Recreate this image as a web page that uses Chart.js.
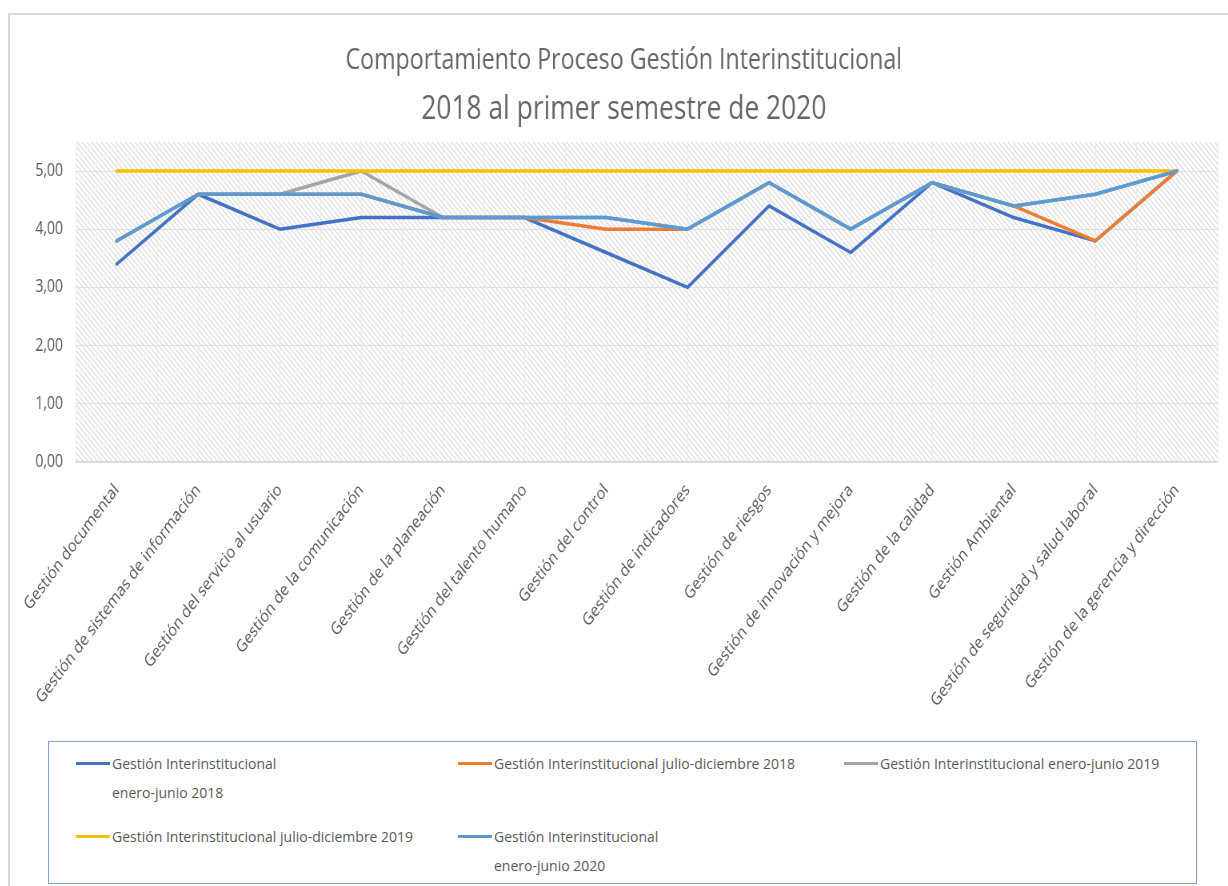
<!DOCTYPE html>
<html>
<head>
<meta charset="utf-8">
<script src="https://cdn.jsdelivr.net/npm/chart.js@4.4.1/dist/chart.umd.min.js"></script>
<style>
  body { margin: 0; background: #fff; font-family: 'Open Sans', sans-serif; }
  #frame { position: absolute; left: 8px; top: 13px; width: 1300px; height: 1000px;
           border-top: 2px solid #d9d9d9; border-left: 2px solid #d9d9d9; }
  #chart { position: absolute; left: 10px; top: 16px; }
  #legend { position: absolute; left: 48px; top: 741px; width: 1147px; height: 141px;
            border: 1px solid #7f9fd8; }
  .item { position: absolute; color: #595959; font-size: 14px; line-height: 29px; white-space: nowrap; }
  .item .swatch { position: absolute; left: 0; top: 13px; width: 34px; height: 3px; }
  .item .txt { margin-left: 36px; }
</style>
</head>
<body>
<div id="frame"></div>
<canvas id="chart" width="1523" height="720" style="width:1218px;height:720px"></canvas>
<div id="legend"></div>
<script>
const categories = [
  'Gestión documental',
  'Gestión de sistemas de información',
  'Gestión del servicio al usuario',
  'Gestión de la comunicación',
  'Gestión de la planeación',
  'Gestión del talento humano',
  'Gestión del control',
  'Gestión de indicadores',
  'Gestión de riesgos',
  'Gestión de innovación y mejora',
  'Gestión de la calidad',
  'Gestión Ambiental',
  'Gestión de seguridad y salud laboral',
  'Gestión de la gerencia y dirección'
];

const eneJun2018 = [3.4, 4.6, 4.0, 4.2, 4.2, 4.2, 3.6, 3.0, 4.4, 3.6, 4.8, 4.2, 3.8, 5.0];
const julDic2018 = [3.8, 4.6, 4.6, 4.6, 4.2, 4.2, 4.0, 4.0, 4.8, 4.0, 4.8, 4.4, 3.8, 5.0];
const eneJun2019 = [3.8, 4.6, 4.6, 5.0, 4.2, 4.2, 4.2, 4.0, 4.8, 4.0, 4.8, 4.4, 4.6, 5.0];
const julDic2019 = [5.0, 5.0, 5.0, 5.0, 5.0, 5.0, 5.0, 5.0, 5.0, 5.0, 5.0, 5.0, 5.0, 5.0];
const eneJun2020 = [3.8, 4.6, 4.6, 4.6, 4.2, 4.2, 4.2, 4.0, 4.8, 4.0, 4.8, 4.4, 4.6, 5.0];

// legend text as shown (some entries wrap onto two lines)
const seriesNames = [
  ['Gestión Interinstitucional', 'enero-junio 2018'],
  ['Gestión Interinstitucional julio-diciembre 2018'],
  ['Gestión Interinstitucional enero-junio 2019'],
  ['Gestión Interinstitucional julio-diciembre 2019'],
  ['Gestión Interinstitucional', 'enero-junio 2020']
];

const yTickValues = [0, 1, 2, 3, 4, 5];

const FONT = "'Open Sans', sans-serif";

function hatchPattern(ctx) {
  const c = document.createElement('canvas');
  c.width = 6; c.height = 6;
  const g = c.getContext('2d');
  g.fillStyle = '#ffffff';
  g.fillRect(0, 0, 6, 6);
  g.strokeStyle = '#dedede';
  g.lineWidth = 1.3;
  g.beginPath();
  g.moveTo(-1, -1); g.lineTo(7, 7);
  g.moveTo(-1, 5); g.lineTo(1, 7);
  g.moveTo(5, -1); g.lineTo(7, 1);
  g.stroke();
  return ctx.createPattern(c, 'repeat');
}

const hatchBackground = {
  id: 'hatchBackground',
  beforeDraw(chart) {
    const { ctx, chartArea } = chart;
    ctx.save();
    ctx.fillStyle = hatchPattern(ctx);
    ctx.fillRect(chartArea.left, chartArea.top, chartArea.right - chartArea.left, chartArea.bottom - chartArea.top);
    ctx.restore();
  }
};

function line(name, data, color, order) {
  return {
    label: name.join(' '),
    data: data,
    borderColor: color,
    backgroundColor: color,
    borderWidth: 3.5,
    pointRadius: 0,
    tension: 0,
    borderJoinStyle: 'round',
    borderCapStyle: 'round',
    order: order
  };
}

const chart = new Chart(document.getElementById('chart').getContext('2d'), {
  type: 'line',
  data: {
    labels: categories,
    datasets: [
      line(seriesNames[0], eneJun2018, '#4472C4', 5),
      line(seriesNames[1], julDic2018, '#ED7D31', 4),
      line(seriesNames[2], eneJun2019, '#A5A5A5', 3),
      line(seriesNames[3], julDic2019, '#FFC000', 2),
      line(seriesNames[4], eneJun2020, '#5B9BD5', 1)
    ]
  },
  options: {
    responsive: false,
    animation: false,
    devicePixelRatio: 1,
    layout: { padding: { left: 25, right: 13, top: 0, bottom: 0 } },
    plugins: {
      legend: { display: false },
      tooltip: { enabled: false },
      title: {
        display: true,
        text: 'Comportamiento Proceso Gestión Interinstitucional',
        color: '#666666',
        font: { family: FONT, size: 29, weight: 'normal', lineHeight: 1.2 },
        padding: { top: 27, bottom: 4 }
      },
      subtitle: {
        display: true,
        text: '2018 al primer semestre de 2020',
        color: '#666666',
        font: { family: FONT, size: 33, weight: 'normal', lineHeight: 1.2 },
        padding: { top: 7.5, bottom: 13 }
      }
    },
    scales: {
      x: {
        offset: true,
        grid: { offset: false, color: '#ebebeb', drawTicks: false },
        border: { color: '#d9d9d9', width: 1.5 },
        ticks: {
          autoSkip: false, minRotation: 47, maxRotation: 47, padding: 18,
          color: '#595959', font: { family: FONT, size: 17.5 }
        },
        afterFit: s => { s.height = 274; }
      },
      x2: {
        type: 'category',
        position: 'top',
        offset: true,
        grid: { offset: true, color: '#ebebeb', drawTicks: false },
        border: { display: false },
        ticks: { display: false },
        afterFit: s => { s.height = 0; }
      },
      y: {
        min: 0,
        max: 5.5,
        afterBuildTicks: s => { s.ticks = yTickValues.map(v => ({ value: v })); },
        grid: { color: '#e0e0e0', drawTicks: false },
        border: { display: false },
        ticks: {
          padding: 16, color: '#595959', font: { family: FONT, size: 17.5 },
          callback: v => v.toFixed(2).replace('.', ',')
        },
        afterFit: s => { s.width = 54; }
      }
    }
  },
  plugins: [hatchBackground]
});

// legend placed like the original: three columns, two rows
function renderLegend(chart) {
  const box = document.getElementById('legend');
  const colX = [27, 409, 795];
  const rowY = [6.5, 79.5];
  chart.data.datasets.forEach((ds, i) => {
    const item = document.createElement('div');
    item.className = 'item';
    item.style.left = colX[i % 3] + 'px';
    item.style.top = rowY[Math.floor(i / 3)] + 'px';
    const sw = document.createElement('div');
    sw.className = 'swatch';
    sw.style.background = ds.borderColor;
    const txt = document.createElement('div');
    txt.className = 'txt';
    txt.innerHTML = seriesNames[i].join('<br>');
    item.appendChild(sw);
    item.appendChild(txt);
    box.appendChild(item);
  });
}
renderLegend(chart);
</script>
</body>
</html>
